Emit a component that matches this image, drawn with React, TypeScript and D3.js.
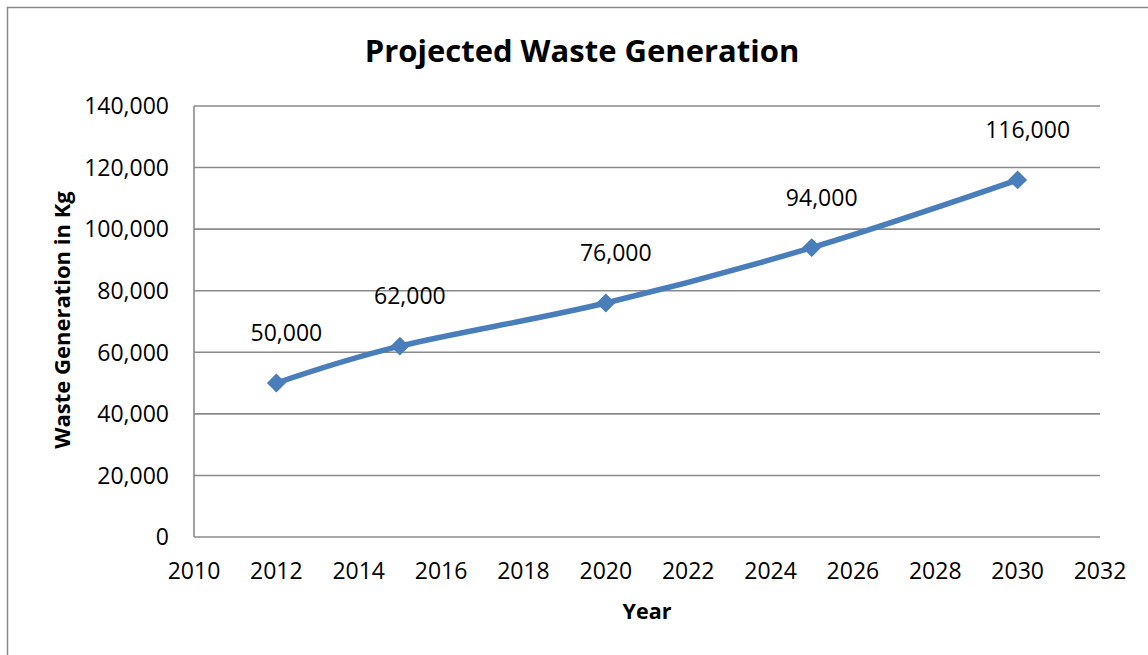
import React from "react";
import * as d3 from "d3";

const years = [2012, 2015, 2020, 2025, 2030];
const waste = [50000, 62000, 76000, 94000, 116000];
const xTicks = [2010, 2012, 2014, 2016, 2018, 2020, 2022, 2024, 2026, 2028, 2030, 2032];
const yTicks = [0, 20000, 40000, 60000, 80000, 100000, 120000, 140000];
const titleText = "Projected Waste Generation";
const xTitle = "Year";
const yTitle = "Waste Generation in Kg";

const W = 1148;
const H = 655;
const plot = { left: 194, right: 1100, top: 106, bottom: 537 };
const FONT = "'Open Sans', 'DejaVu Sans', sans-serif";
const LINE = "#4A7EBB";
const GRID = "#8a8a8a";

export default function App() {
  const x = d3.scaleLinear().domain([2010, 2032]).range([plot.left, plot.right]);
  const y = d3.scaleLinear().domain([0, 140000]).range([plot.bottom, plot.top]);
  const fmt = d3.format(",");
  const pts: [number, number][] = years.map((yr, i) => [x(yr), y(waste[i])]);
  const line = d3.line().curve(d3.curveCatmullRom.alpha(0))(pts) || "";
  const diamond = d3.symbol().type(d3.symbolSquare).size(180)() || "";

  return (
    <svg
      width={W}
      height={H}
      style={{ position: "absolute", left: 0, top: 0, background: "#fff" }}
    >
      <rect x={0} y={0} width={W} height={H} fill="#fff" />
      <rect x={7.5} y={7.5} width={1200} height={700} fill="none" stroke={GRID} strokeWidth={1.5} />

      {/* gridlines */}
      {yTicks.map((t) => (
        <line
          key={"g" + t}
          x1={plot.left}
          x2={plot.right}
          y1={y(t)}
          y2={y(t)}
          stroke={GRID}
          strokeWidth={1.6}
        />
      ))}
      <line x1={plot.left} x2={plot.left} y1={plot.top} y2={plot.bottom} stroke={GRID} strokeWidth={1.6} />

      {/* y tick labels */}
      {yTicks.map((t) => (
        <text
          key={"yl" + t}
          x={169}
          y={y(t)}
          dy="0.36em"
          textAnchor="end"
          fontFamily={FONT}
          fontSize={23}
          fill="#000"
        >
          {fmt(t)}
        </text>
      ))}

      {/* x tick labels */}
      {xTicks.map((t) => (
        <text
          key={"xl" + t}
          x={x(t)}
          y={579}
          textAnchor="middle"
          fontFamily={FONT}
          fontSize={23}
          fill="#000"
        >
          {t}
        </text>
      ))}

      {/* series */}
      <path d={line} fill="none" stroke={LINE} strokeWidth={5.5} strokeLinejoin="round" />
      {pts.map(([px, py], i) => (
        <path key={"m" + i} d={diamond} transform={`translate(${px},${py}) rotate(45)`} fill={LINE} />
      ))}

      {/* data labels */}
      {pts.map(([px, py], i) => (
        <text
          key={"dl" + i}
          x={px + 10}
          y={py - 50}
          dy="0.36em"
          textAnchor="middle"
          fontFamily={FONT}
          fontSize={23}
          fill="#000"
        >
          {fmt(waste[i])}
        </text>
      ))}

      {/* titles */}
      <text x={582} y={62} textAnchor="middle" fontFamily={FONT} fontWeight="bold" fontSize={31} fill="#000">
        {titleText}
      </text>
      <text x={647} y={619} textAnchor="middle" fontFamily={FONT} fontWeight="bold" fontSize={21.5} fill="#000">
        {xTitle}
      </text>
      <text
        transform="translate(70,320) rotate(-90)"
        textAnchor="middle"
        fontFamily={FONT}
        fontWeight="bold"
        fontSize={22}
        fill="#000"
      >
        {yTitle}
      </text>
    </svg>
  );
}
